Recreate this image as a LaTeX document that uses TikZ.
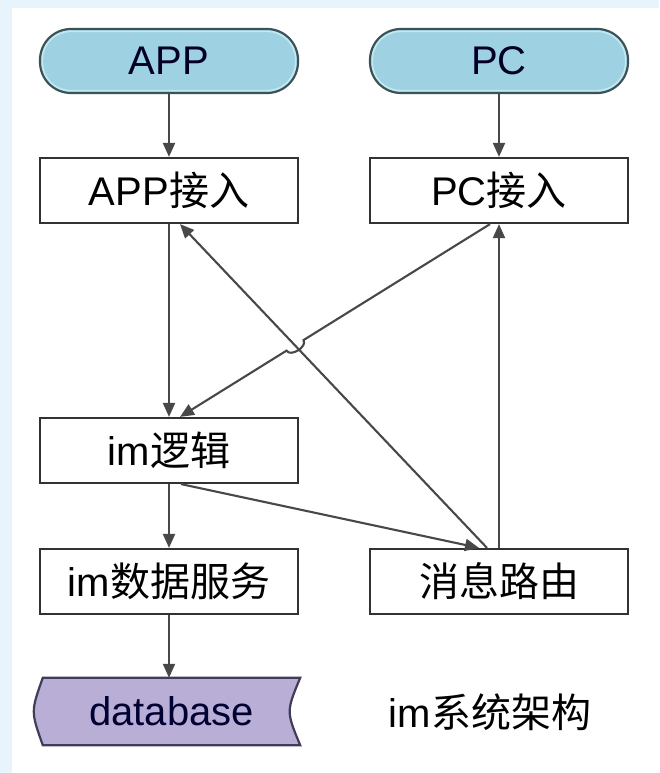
\documentclass[tikz,border=0pt]{standalone}
\usepackage{fontspec}
\setmainfont{Liberation Sans}
\newfontfamily\cjk{Noto Sans CJK SC}
\usetikzlibrary{arrows.meta,calc,intersections}

\definecolor{pagetint}{RGB}{232,244,251}
\definecolor{pillfill}{RGB}{158,210,226}
\definecolor{pilledge}{RGB}{58,82,88}
\definecolor{pillglow}{RGB}{196,232,240}
\definecolor{dbfill}{RGB}{184,174,214}
\definecolor{dbedge}{RGB}{66,60,88}
\definecolor{boxedge}{RGB}{50,50,50}
\definecolor{linkcol}{RGB}{72,72,72}

\tikzset{
  every node/.style={font=\fontsize{40}{46}\selectfont, inner sep=0pt},
  pill/.style={draw=pilledge, line width=2.2pt, fill=pillfill, rounded corners=31pt,
               minimum width=258pt, minimum height=64pt, text=black!85!blue},
  pillhalo/.style={draw=pillglow, line width=1.6pt, rounded corners=28pt},
  stepbox/.style={draw=boxedge, line width=2.2pt, fill=white,
               minimum width=258pt, minimum height=65pt},
  dbnode/.style={minimum width=257pt, minimum height=67pt},
  dbshape/.style={draw=dbedge, line width=2.2pt, fill=dbfill},
  conn/.style={draw=linkcol, line width=2.1pt,
               -{Triangle[length=14pt,width=12pt]}},
}

\begin{document}
\begin{tikzpicture}[x=1pt, y=-1pt]
  % page tint and white sheet
  \fill[pagetint] (0,0) rectangle (659,773);
  \fill[white] (12,8) rectangle (659,773);
  \useasboundingbox (0,0) rectangle (659,773);

  % clients
  \node[pill] (app) at (169,61) {};
  \node[pill] (pc)  at (499,61) {};
  \draw[pillhalo] ($(app.north west)+(3.5,3.5)$) rectangle ($(app.south east)+(-3.5,-3.5)$);
  \draw[pillhalo] ($(pc.north west)+(3.5,3.5)$) rectangle ($(pc.south east)+(-3.5,-3.5)$);
  \node[text=black!85!blue] (applabel) at (app) {APP};
  \node[text=black!85!blue] (pclabel)  at (pc)  {PC};

  % access layer
  \node[stepbox] (appin) at (169,190.5) {APP{\cjk 接入}};
  \node[stepbox] (pcin)  at (499,190.5) {PC{\cjk 接入}};

  % logic, data and routing
  \node[stepbox] (logic) at (169,450.5) {im{\cjk 逻辑}};
  \node[stepbox] (data)  at (169,581.5) {im{\cjk 数据服务}};
  \node[stepbox] (route) at (499,581.5) {\cjk 消息路由};

  % database (stored-data shape)
  \node[dbnode] (db) at (171.5,711.5) {};
  \draw[dbshape] (db.north west) -- (db.north east)
     .. controls ($(db.east)+(-14,0)$) .. (db.south east)
     -- (db.south west)
     .. controls ($(db.west)+(-12,0)$) .. cycle;
  \node[text=black!80!blue] (dblabel) at (db) {database};

  % caption
  \node (caption) at (490,712) {im{\cjk 系统架构}};

  % straight links
  \draw[conn] (app) -- (appin);
  \draw[conn] (pc) -- (pcin);
  \draw[conn] (appin) -- (logic);
  \draw[conn] (logic) -- (data);
  \draw[conn] (data) -- (data |- db.north);
  \draw[conn] (route) -- (pcin);

  % diagonal links
  \coordinate (routeA) at ([xshift=-12pt]route.north);
  \coordinate (routeB) at ([xshift=-20pt]route.north);
  \coordinate (appinR) at ([xshift=11pt]appin.south);
  \coordinate (pcinL)  at ([xshift=-9pt]pcin.south);
  \coordinate (logicN) at ([xshift=11pt]logic.north);
  \coordinate (logicS) at ([xshift=12pt]logic.south);

  \draw[conn, name path=upleft] (routeA) -- (appinR);
  \draw[conn] (logicS) -- (routeB);

  \path[name path=downleft] (pcinL) -- (logicN);
  \path[name intersections={of=upleft and downleft, by=hop}];
  \draw[conn] (pcinL) -- ($(hop)!10pt!(pcinL)$)
     to[bend left=90] ($(hop)!10pt!(logicN)$) -- (logicN);
\end{tikzpicture}
\end{document}
